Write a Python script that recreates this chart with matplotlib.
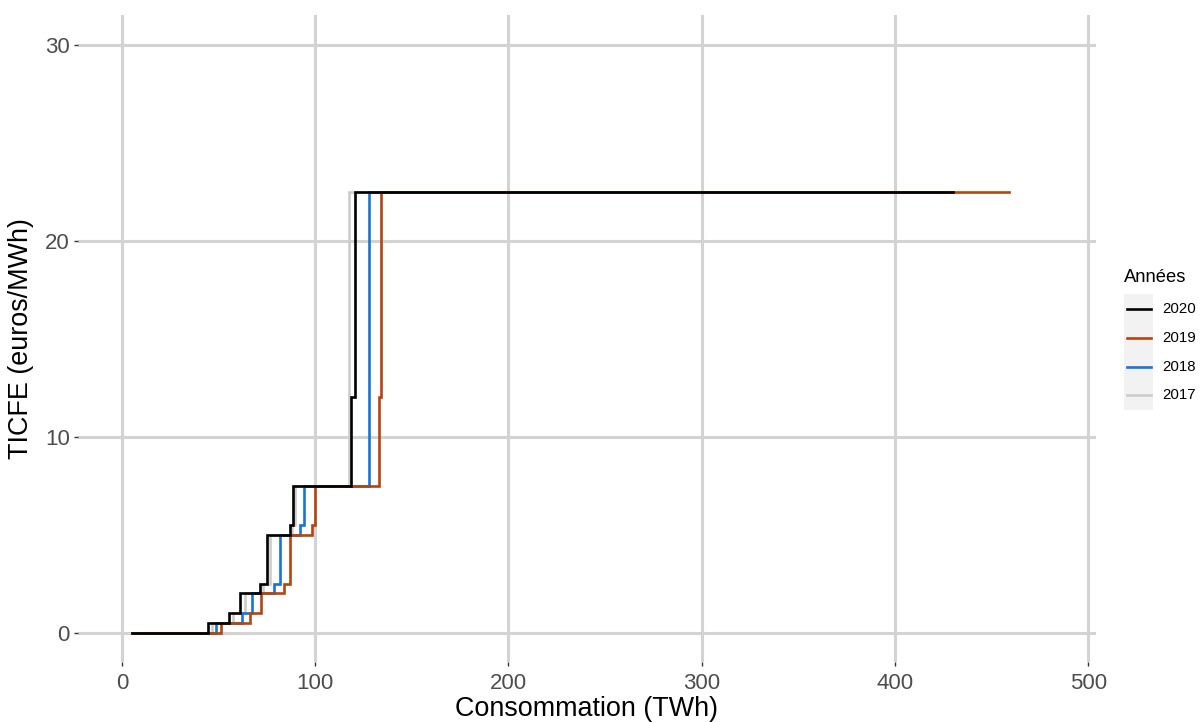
import matplotlib
matplotlib.use("Agg")
import matplotlib.pyplot as plt
from matplotlib.lines import Line2D
from matplotlib.patches import Rectangle

plt.rcParams["font.family"] = ["Liberation Sans", "DejaVu Sans"]

# step curves: x = start of each level (TWh), y = TICFE level (euros/MWh)
years = ["2017", "2018", "2019", "2020"]
colors = ["#cccccc", "#1874d6", "#b5440e", "#000000"]

x_2017 = [5, 46.5, 57.5, 63.5, 73.0, 76.5, 88.0, 89.5, 117.4, 415]
y_2017 = [0, 0.5, 1, 2, 2.5, 5, 5.5, 7.5, 22.5, 22.5]

x_2018 = [5, 48.9, 62.2, 67.5, 78.7, 82.0, 92.3, 94.2, 127.8, 425]
y_2018 = [0, 0.5, 1, 2, 2.5, 5, 5.5, 7.5, 22.5, 22.5]

x_2019 = [5, 51.5, 66.1, 71.8, 83.7, 87.1, 98.3, 99.9, 133.0, 134.1, 459]
y_2019 = [0, 0.5, 1, 2, 2.5, 5, 5.5, 7.5, 12, 22.5, 22.5]

x_2020 = [5, 44.6, 55.4, 61.0, 71.3, 75.0, 87.1, 88.5, 118.6, 120.4, 430]
y_2020 = [0, 0.5, 1, 2, 2.5, 5, 5.5, 7.5, 12, 22.5, 22.5]

xs = [x_2017, x_2018, x_2019, x_2020]
ys = [y_2017, y_2018, y_2019, y_2020]

xticks = [0, 100, 200, 300, 400, 500]
yticks = [0, 10, 20, 30]

fig = plt.figure(figsize=(12, 7.22), dpi=100)
ax = fig.add_axes([0.065, 0.083, 0.848, 0.896])

for x, y, c in zip(xs, ys, colors):
    ax.step(x, y, where="post", color=c, lw=1.9, solid_joinstyle="miter", zorder=3)

ax.set_xlim(-22.7, 503.8)
ax.set_ylim(-1.5, 31.5)
ax.set_xticks(xticks)
ax.set_yticks(yticks)
ax.grid(True, color="#d3d3d3", lw=2.2)
ax.set_axisbelow(True)
for s in ax.spines.values():
    s.set_visible(False)
ax.tick_params(axis="both", colors="#333333", length=3, width=1.0,
               labelsize=16, labelcolor="#4d4d4d")
ax.tick_params(axis="x", pad=5)
ax.tick_params(axis="y", pad=3)

ax.set_xlabel("Consommation (TWh)", fontsize=19.4, labelpad=1)
ax.set_ylabel("TICFE (euros/MWh)", fontsize=19.4, labelpad=8)

# legend, drawn by hand to get the grey key background
W, H = 1200, 722
fig.text(1124 / W, 1 - 277 / H, "Années", fontsize=13.2, va="center", ha="left")
fig.add_artist(Rectangle((1124 / W, 1 - 410 / H), 29 / W, 116 / H,
                         transform=fig.transFigure, color="#f2f2f2", lw=0))
rows = [309, 338, 367, 395]
for k, (lab, c) in enumerate(zip(years[::-1], colors[::-1])):
    yy = 1 - rows[k] / H
    fig.add_artist(Line2D([1127 / W, 1151 / W], [yy, yy], color=c, lw=1.9,
                          transform=fig.transFigure))
    fig.text(1162 / W, yy, lab, fontsize=10.8, va="center", ha="left", color="#000000")

fig.savefig("out.png", dpi=100)
